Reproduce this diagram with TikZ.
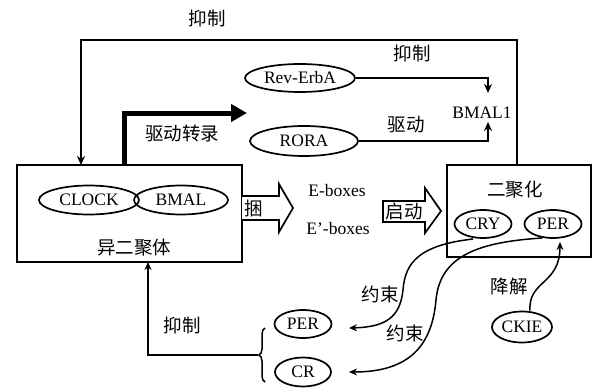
\documentclass[tikz,border=0pt]{standalone}
\usepackage{fontspec}
\setmainfont{Liberation Serif}
\newfontfamily\cjk{Noto Sans CJK SC}
\usetikzlibrary{shapes.geometric,arrows.meta,decorations.pathreplacing}
\tikzset{
  lat/.style={font=\fontsize{17.5}{19}\selectfont, inner sep=0pt},
  zh/.style={font=\cjk\fontsize{18.5}{20}\selectfont, inner sep=0pt},
  oval/.style={ellipse, draw, line width=1.7pt, inner sep=0pt, font=\fontsize{17.5}{19}\selectfont},
  box/.style={draw, line width=1.8pt},
  conn/.style={line width=2.2pt, -{Stealth[length=9pt,width=8pt]}},
  thin conn/.style={line width=1.5pt, -{Stealth[length=8pt,width=7pt]}},
  hollow/.style={draw, line width=1.7pt, fill=white},
}
\begin{document}
\begin{tikzpicture}[x=1pt,y=-1pt]
\useasboundingbox (0,0) rectangle (593,391);
% boxes
\draw[box] (17,165) rectangle (242,262);
\draw[box] (447,165) rectangle (591,257);
% left box content
\node[oval, minimum width=100pt, minimum height=29pt] (clock) at (89,200) {CLOCK};
\node[oval, minimum width=94pt, minimum height=29pt] (bmal) at (181,200) {BMAL};
\node[zh] (yi) at (134,248) {异二聚体};
% right box content
\node[zh] (erju) at (515,190) {二聚化};
\node[oval, minimum width=57pt, minimum height=28pt] (cry) at (483,224) {CRY};
\node[oval, minimum width=57pt, minimum height=28pt] (perR) at (553,224) {PER};
% ellipses in middle
\node[oval, minimum width=110pt, minimum height=28pt] (rev) at (300,78) {Rev-ErbA};
\node[oval, minimum width=108pt, minimum height=30pt] (rora) at (304,141) {RORA};
\node[lat] (bmal1) at (482,113) {BMAL1};
% bottom ellipses
\node[oval, minimum width=57pt, minimum height=28pt] (perL) at (303,324) {PER};
\node[oval, minimum width=56pt, minimum height=29pt] (cr) at (303,372) {CR};
\node[oval, minimum width=60pt, minimum height=31pt] (ckie) at (522,327) {CKIE};
% texts
\node[zh] (t1) at (207,18) {抑制};
\node[zh] (t2) at (182,133) {驱动转录};
\node[zh] (t3) at (412,53) {抑制};
\node[zh] (t4) at (406,125) {驱动};
\node[lat] (eb) at (337,191) {E-boxes};
\node[lat] (eb2) at (338,229) {E’-boxes};
\node[zh] (t5) at (380,294) {约束};
\node[zh] (t6) at (405,333) {约束};
\node[zh] (t7) at (509,286) {降解};
\node[zh] (t8) at (182,325) {抑制};
% top feedback line
\coordinate (topR) at (517,165);
\coordinate (topL) at (81,165);
\draw[conn] (topR) -- (517,40) -- (81,40) -- (topL);
% thick arrow
\coordinate (thS) at (124,165);
\coordinate (thE) at (247,113);
\draw[line width=5pt, -{Triangle[length=16pt,width=17pt]}] (thS) -- (124,113) -- (thE);
% Rev-ErbA and RORA arrows
\coordinate (b1top) at (488,93);
\coordinate (b1bot) at (488,122);
\draw[conn] (rev.east) -- (488,78) -- (b1top);
\draw[conn] (rora.east) -- (488,141) -- (b1bot);
% hollow arrow kun
\draw[hollow] (242,196) -- (279,196) -- (279,184) -- (293,208) -- (279,232) -- (279,220) -- (242,220);
\node[zh] (kun) at (254,208) {捆};
% hollow arrow qidong
\draw[hollow] (383,201) -- (425,201) -- (425,188) -- (441,211) -- (425,233) -- (425,222) -- (383,222) -- cycle;
\node[zh] (qd) at (404,211) {启动};
% brace
\draw[line width=1.5pt, decorate, decoration={brace, amplitude=6pt}] (265,382) -- (265,328);
\coordinate (brT) at (258,355);
\coordinate (boxB) at (148,262);
\draw[thin conn] (brT) -- (148,355) -- (boxB);
% curves
\coordinate (c1s) at (473,239);
\coordinate (c1e) at (349,328);
\draw[thin conn] (c1s) .. controls (420,245) and (405,262) .. (403,290) .. controls (400,318) and (385,327) .. (c1e);
\coordinate (c2s) at (542,238);
\coordinate (c2e) at (349,372);
\draw[thin conn] (c2s) .. controls (480,242) and (440,255) .. (436,300) .. controls (432,345) and (410,372) .. (c2e);
\coordinate (c3e) at (560,242);
\draw[thin conn] (ckie.north) ++(8,0) .. controls (528,280) and (560,285) .. (c3e);
\end{tikzpicture}
\end{document}
